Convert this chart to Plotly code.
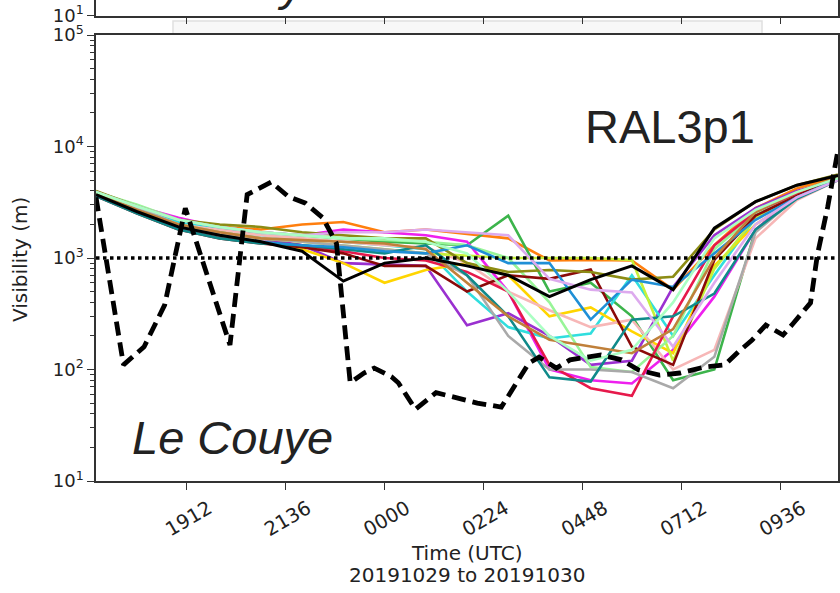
import pandas as pd
import plotly.graph_objects as go

# ---- data -------------------------------------------------------------
# hourly model output, 17 UTC on 29 Oct to 11 UTC on 30 Oct 2019
model_times = pd.date_range("2019-10-29 17:00", "2019-10-30 11:00", freq="h")

member_colors = {
    "m01": "#ff7f0e", "m02": "#3cb44b", "m03": "#ee20ee", "m04": "#9a30d0",
    "m05": "#30dede", "m06": "#ffd500", "m07": "#f7b7b7", "m08": "#c6f03a",
    "m09": "#98f598", "m10": "#e6194b", "m11": "#8b0a0a", "m12": "#8c8c14",
    "m13": "#a9a9a9", "m14": "#108a8a", "m15": "#1f8fd6", "m16": "#ddaaee",
    "m17": "#c0803a", "m18": "#aaffc3",
}

m01 = [3800, 2800, 2100, 1900, 1800, 2000, 2100, 1700, 1800, 1650, 1500, 950, 960, 950, 520, 1300, 2800, 4200, 5400]
m02 = [3800, 2700, 2000, 1800, 1700, 1600, 1500, 1400, 1350, 1300, 2400, 500, 600, 300, 80, 100, 1800, 3500, 5200]
m03 = [3800, 2900, 2300, 1900, 1700, 1600, 1800, 1700, 1600, 1400, 500, 100, 80, 75, 150, 450, 1800, 3600, 5000]
m04 = [3800, 2800, 2000, 1700, 1500, 1300, 900, 880, 850, 250, 320, 200, 110, 120, 550, 1600, 2800, 4000, 5000]
m05 = [3900, 2800, 2100, 1800, 1600, 1500, 1400, 1300, 1200, 500, 240, 190, 210, 700, 200, 700, 2300, 3800, 5200]
m06 = [3700, 2600, 1900, 1600, 1400, 1200, 900, 600, 780, 900, 700, 300, 360, 220, 140, 850, 2000, 3500, 5200]
m07 = [3800, 2800, 2000, 1800, 1600, 1500, 1400, 1300, 1250, 900, 500, 340, 240, 280, 100, 150, 1500, 3300, 5000]
m08 = [3700, 2700, 2000, 1700, 1500, 1400, 1300, 1200, 1100, 1050, 1000, 1000, 1000, 960, 120, 800, 2300, 3700, 5200]
m09 = [3900, 3000, 2200, 1900, 1700, 1600, 1500, 1450, 1400, 1300, 1000, 400, 105, 95, 200, 1200, 2500, 3800, 5200]
m10 = [3700, 2600, 1900, 1600, 1400, 1300, 1150, 1000, 950, 750, 500, 110, 68, 58, 300, 1300, 2600, 3800, 5100]
m11 = [3600, 2500, 1800, 1500, 1350, 1250, 1100, 850, 850, 500, 700, 650, 790, 160, 110, 960, 2400, 3600, 5300]
m12 = [4000, 2900, 2200, 2000, 1900, 1700, 1600, 1500, 1500, 900, 750, 780, 750, 640, 680, 1800, 3200, 4500, 5600]
m13 = [3900, 2800, 2000, 1700, 1500, 1400, 1300, 1200, 1100, 700, 200, 100, 100, 95, 68, 130, 1700, 3500, 5000]
m14 = [3600, 2500, 1800, 1500, 1350, 1300, 1200, 1100, 1300, 700, 300, 85, 78, 280, 300, 480, 1800, 3400, 5000]
m15 = [3700, 2600, 1900, 1600, 1400, 1300, 1250, 1150, 1100, 1300, 900, 900, 280, 640, 550, 1100, 2200, 3500, 5100]
m16 = [3900, 2900, 2200, 1900, 1700, 1600, 1700, 1700, 1800, 1700, 1600, 650, 520, 490, 160, 600, 2000, 3500, 5000]
m17 = [3800, 2700, 2000, 1700, 1500, 1450, 1400, 1350, 1200, 600, 300, 185, 160, 140, 230, 1000, 2600, 3900, 5300]
m18 = [3900, 2900, 2200, 1900, 1700, 1600, 1500, 1500, 1400, 1100, 500, 200, 120, 150, 400, 1500, 2700, 3900, 5200]
members = [m01, m02, m03, m04, m05, m06, m07, m08, m09, m10,
           m11, m12, m13, m14, m15, m16, m17, m18]

# control run
control = [3700, 2600, 1900, 1600, 1400, 1150, 620, 900, 1000, 850, 700, 450, 640, 850, 520, 1850, 3200, 4500, 5500]

# observed visibility at Le Couye
obs_times = [
    "2019-10-29 17:00", "2019-10-29 17:40", "2019-10-29 18:10", "2019-10-29 18:40",
    "2019-10-29 19:10", "2019-10-29 20:15", "2019-10-29 20:40", "2019-10-29 21:15",
    "2019-10-29 21:40", "2019-10-29 22:05", "2019-10-29 22:30", "2019-10-29 22:50",
    "2019-10-29 23:10", "2019-10-29 23:30", "2019-10-29 23:45", "2019-10-30 00:10",
    "2019-10-30 00:20", "2019-10-30 00:45", "2019-10-30 01:15", "2019-10-30 02:15",
    "2019-10-30 02:50", "2019-10-30 03:30", "2019-10-30 03:45", "2019-10-30 04:10",
    "2019-10-30 04:30", "2019-10-30 05:15", "2019-10-30 05:45", "2019-10-30 06:10",
    "2019-10-30 06:40", "2019-10-30 07:10", "2019-10-30 07:45", "2019-10-30 08:15",
    "2019-10-30 08:35", "2019-10-30 08:55", "2019-10-30 09:15", "2019-10-30 09:40",
    "2019-10-30 09:55", "2019-10-30 10:20", "2019-10-30 10:30", "2019-10-30 10:45",
    "2019-10-30 11:00",
]
obs_vis = [
    3500, 110, 160, 380, 2800, 166, 3700, 4800, 3550, 3100, 2300, 1350,
    76, 93, 103, 86, 76, 44, 62, 50, 46, 114, 129, 103, 122, 135, 122, 99,
    89, 93, 105, 110, 144, 184, 250, 204, 260, 396, 1070, 2870, 9300,
]

fog_threshold = 1000

tick_times = ["2019-10-29 19:12", "2019-10-29 21:36", "2019-10-30 00:00",
              "2019-10-30 02:24", "2019-10-30 04:48", "2019-10-30 07:12",
              "2019-10-30 09:36"]
tick_labels = ["1912", "2136", "0000", "0224", "0448", "0712", "0936"]

y_tickvals = [10, 100, 1000, 10000, 100000]
y_ticktext = ["10<sup>1</sup>", "10<sup>2</sup>", "10<sup>3</sup>",
              "10<sup>4</sup>", "10<sup>5</sup>"]
y_minor = [m * 10 ** e for e in range(1, 5) for m in range(2, 10)]

t_start, t_end = "2019-10-29 17:00", "2019-10-30 11:00"

# ---- figure -----------------------------------------------------------
W, H = 840, 593
ML, MR, MB = 96, 2, 112
paper_h = H - MB                      # 481 px of paper
main_top = 446 / paper_h              # main panel height 446 px
strip_bot = (paper_h - 15.5) / paper_h

def py(px):
    """paper y for a pixel row measured from the top of the page"""
    return (paper_h - px) / paper_h

def pxx(px):
    return (px - ML) / (W - ML - MR)

fig = go.Figure()

for name, vals in zip(member_colors, members):
    fig.add_trace(go.Scatter(x=model_times, y=vals, mode="lines",
                             line=dict(color=member_colors[name], width=2.6),
                             showlegend=False, hoverinfo="skip"))

fig.add_trace(go.Scatter(x=model_times, y=control, mode="lines",
                         line=dict(color="black", width=3),
                         showlegend=False, hoverinfo="skip"))

fig.add_trace(go.Scatter(x=obs_times, y=obs_vis, mode="lines",
                         line=dict(color="black", width=4.8, dash="14px,7px"),
                         showlegend=False, hoverinfo="skip"))

fig.add_trace(go.Scatter(x=[t_start, t_end], y=[fog_threshold, fog_threshold],
                         mode="lines",
                         line=dict(color="black", width=3.5, dash="3.5px,3.5px"),
                         showlegend=False, hoverinfo="skip"))

# bottom edge of the panel above
fig.add_trace(go.Scatter(x=[None], y=[None], xaxis="x2", yaxis="y2",
                         showlegend=False, hoverinfo="skip"))

ytick_font = dict(family="DejaVu Sans", size=18, color="#222")
xtick_font = dict(family="DejaVu Sans", size=19.5, color="#222")
title_font = dict(family="DejaVu Sans", size=20, color="#222")
axis_common = dict(showgrid=False, zeroline=False, showline=True,
                   linecolor="#333", linewidth=1.5, ticks="outside",
                   tickcolor="#333", tickwidth=1.3, ticklen=7,
                   automargin=False)

fig.update_layout(
    width=W, height=H,
    margin=dict(l=ML, r=MR, t=0, b=MB),
    paper_bgcolor="white", plot_bgcolor="white",
    xaxis=dict(type="date", range=[t_start, t_end], domain=[0, 1],
               anchor="y", tickvals=tick_times, ticktext=tick_labels,
               tickangle=-30, tickfont=xtick_font, ticklabelshift=22,
               mirror=True, **axis_common),
    yaxis=dict(type="log", range=[1, 5], domain=[0, main_top], anchor="x",
               tickvals=y_tickvals, ticktext=y_ticktext, tickfont=ytick_font,
               mirror=True,
               minor=dict(tickvals=y_minor, ticks="outside", ticklen=4,
                          tickwidth=1, tickcolor="#333"),
               **axis_common),
    xaxis2=dict(type="date", range=[t_start, t_end], domain=[0, 1],
                anchor="y2", tickvals=tick_times, showticklabels=False,
                mirror=False, **axis_common),
    yaxis2=dict(type="log", range=[1, 1.139], domain=[strip_bot, 1],
                anchor="x2", tickvals=[10], ticktext=["10<sup>1</sup>"],
                tickfont=ytick_font, mirror=True, **axis_common),
)

# faint legend-box edge peeking out under the panel above
fig.add_shape(type="rect", xref="paper", yref="paper",
              x0=pxx(173), x1=pxx(762), y0=py(34), y1=py(21),
              fillcolor="#f8f8f8", line=dict(color="#e0e0e0", width=1.5),
              layer="below")

label_font = dict(family="Liberation Sans, Arial", size=47, color="#222")
fig.add_annotation(text="RAL3p1", xref="paper", yref="paper",
                   x=pxx(583), y=py(126), xanchor="left", yanchor="middle",
                   showarrow=False, font=label_font)
fig.add_annotation(text="<i>Le Couye</i>", xref="paper", yref="paper",
                   x=pxx(130), y=py(437), xanchor="left", yanchor="middle",
                   showarrow=False, font=label_font)
# site label of the panel above, mostly off the page
fig.add_annotation(text="<i>Le Couye</i>", xref="paper", yref="paper",
                   x=pxx(127), y=py(-17), xanchor="left", yanchor="middle",
                   showarrow=False, font=label_font)

fig.add_annotation(text="Visibility (m)", xref="paper", yref="paper",
                   x=pxx(20), y=py(260), xanchor="center", yanchor="middle",
                   textangle=-90, showarrow=False, font=title_font)
fig.add_annotation(text="Time (UTC)", xref="paper", yref="paper",
                   x=0.5, y=py(553), xanchor="center", yanchor="middle",
                   showarrow=False, font=title_font)
fig.add_annotation(text="20191029 to 20191030", xref="paper", yref="paper",
                   x=0.5, y=py(575), xanchor="center", yanchor="middle",
                   showarrow=False, font=title_font)

fig.write_html("out.html")
